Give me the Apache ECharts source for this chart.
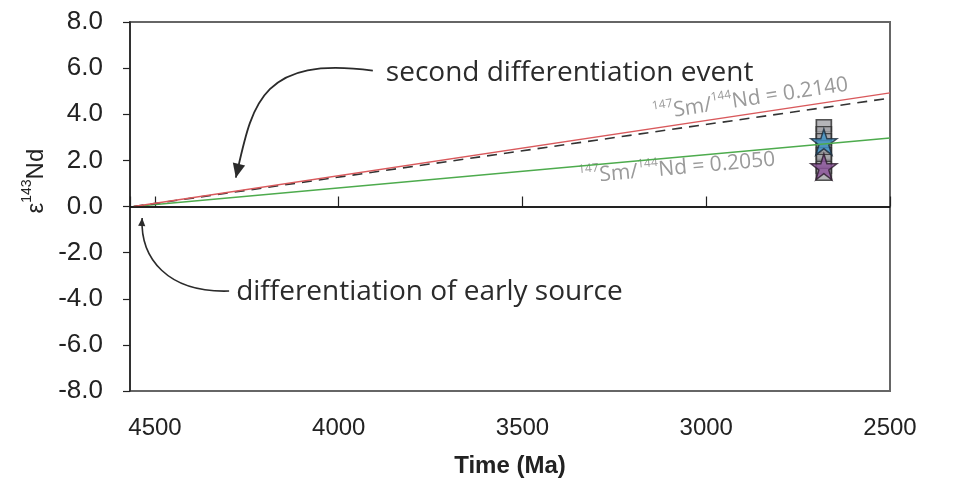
<!DOCTYPE html>
<html>
<head>
<meta charset="utf-8">
<style>
  html, body { margin: 0; padding: 0; background: #fff; }
  #chart { width: 953px; height: 494px; }
</style>
<script src="https://cdn.jsdelivr.net/npm/echarts@6/dist/echarts.min.js"></script>
</head>
<body>
<div id="chart"></div>
<script>
// Nd isotope evolution lines (time in Ma, epsilon Nd)
const lineTimes = [4558, 2500];
const epsRedSolid = [0, 4.93];
const epsBlackDashed = [0, 4.70];
const epsGreen = [0, 2.97];

// ~2.68 Ga samples
const sampleAges = [2680, 2680, 2680, 2680, 2680, 2680, 2680, 2680];
const sampleEps = [3.5, 3.2, 2.9, 2.6, 2.3, 2.0, 1.7, 1.4];
const blueStar = [2680, 2.8];
const purpleStar = [2680, 1.72];

const xTicks = [2500, 3000, 3500, 4000, 4500];
const yTicks = [-8, -6, -4, -2, 0, 2, 4, 6, 8];

const STAR = 'path://M50,0 L61.8,35.4 L100,35.4 L69.1,57.3 L80.9,92.7 L50,70.8 L19.1,92.7 L30.9,57.3 L0,35.4 L38.2,35.4 Z';

const toPairs = (xs, ys) => xs.map((x, i) => [x, ys[i]]);

const chart = echarts.init(document.getElementById('chart'), null, { renderer: 'canvas' });

const option = {
  animation: false,
  backgroundColor: '#ffffff',
  grid: { left: 130, right: 63, top: 22, bottom: 103, show: true, borderColor: '#666', borderWidth: 2 },
  xAxis: {
    type: 'value',
    min: 2500,
    max: 4568,
    interval: 500,
    inverse: true,
    name: 'Time (Ma)',
    nameLocation: 'middle',
    nameGap: 63,
    nameTextStyle: { fontFamily: 'Liberation Sans', fontSize: 24, fontWeight: 'bold', color: '#222' },
    axisLine: { lineStyle: { color: '#222', width: 1.5 } },
    axisTick: { inside: true, length: 10, lineStyle: { color: '#222', width: 1.2 } },
    splitLine: { show: false },
    axisLabel: {
      margin: 25,
      fontFamily: 'Liberation Sans', fontSize: 24, color: '#222',
      formatter: v => (xTicks.indexOf(v) >= 0 ? String(v) : '')
    }
  },
  yAxis: {
    type: 'value',
    min: -8,
    max: 8,
    interval: 2,
    axisLine: { lineStyle: { color: '#222', width: 1.5 } },
    axisTick: { inside: false, length: 7, lineStyle: { color: '#222', width: 1.2 } },
    splitLine: { show: false },
    axisLabel: {
      margin: 27,
      fontFamily: 'Liberation Sans', fontSize: 26, color: '#222',
      formatter: v => (yTicks.indexOf(v) >= 0 ? v.toFixed(1) : '')
    }
  },
  series: [
    {
      name: 'zero',
      type: 'line',
      data: [],
      markLine: {
        silent: true,
        symbol: ['none', 'none'],
        label: { show: false },
        lineStyle: { color: '#111', width: 1.5, type: 'solid' },
        data: [{ yAxis: 0 }]
      }
    },
    {
      name: '147Sm/144Nd = 0.2050',
      type: 'line',
      data: toPairs(lineTimes, epsGreen),
      symbol: 'none',
      lineStyle: { color: '#4dab4d', width: 1.4 }
    },
    {
      name: 'dashed',
      type: 'line',
      data: toPairs(lineTimes, epsBlackDashed),
      symbol: 'none',
      lineStyle: { color: '#333', width: 1.6, type: [10, 7] }
    },
    {
      name: '147Sm/144Nd = 0.2140',
      type: 'line',
      data: toPairs(lineTimes, epsRedSolid),
      symbol: 'none',
      lineStyle: { color: '#d9595c', width: 1.3 }
    },
    {
      name: 'samples',
      type: 'scatter',
      data: toPairs(sampleAges, sampleEps),
      symbol: 'rect',
      symbolSize: [15, 12],
      itemStyle: { color: '#a3a3a8', borderColor: '#2a2a2a', borderWidth: 1.5 }
    },
    {
      name: 'purple',
      type: 'scatter',
      data: [purpleStar],
      symbol: STAR,
      symbolSize: 26,
      itemStyle: { color: '#8e559e', borderColor: '#2a1a2a', borderWidth: 1.5 }
    },
    {
      name: 'blue',
      type: 'scatter',
      data: [blueStar],
      symbol: STAR,
      symbolSize: 26,
      itemStyle: { color: '#3d94c9', borderColor: '#1a2a3a', borderWidth: 1.5 }
    }
  ]
};

chart.setOption(option);

// Annotations placed relative to data coordinates
const px = (t, e) => chart.convertToPixel({ gridIndex: 0 }, [t, e]);

function arrowHead(tip, from, size) {
  const dx = tip[0] - from[0], dy = tip[1] - from[1];
  const len = Math.hypot(dx, dy);
  const ux = dx / len, uy = dy / len;
  const bx = tip[0] - ux * size, by = tip[1] - uy * size;
  const w = size * 0.45;
  return [[tip[0], tip[1]], [bx - uy * w, by + ux * w], [bx + uy * w, by - ux * w]];
}

const a1Tip = px(4280, 1.25);
const a1Start = [a1Tip[0] + 137, a1Tip[1] - 107];
const a1c1 = [a1Tip[0] + 22, a1Tip[1] - 123];
const a1c2 = [a1Tip[0] + 16, a1Tip[1] - 70];

const a2Tip = px(4535, -0.5);
const a2Start = [a2Tip[0] + 87, a2Tip[1] + 73];
const a2c1 = [a2Tip[0] + 25, a2Tip[1] + 75];
const a2c2 = [a2Tip[0] - 2, a2Tip[1] + 40];

const redA = px(lineTimes[0], epsRedSolid[0]);
const redB = px(lineTimes[1], epsRedSolid[1]);
const grnA = px(lineTimes[0], epsGreen[0]);
const grnB = px(lineTimes[1], epsGreen[1]);
const redAngle = Math.atan2(redA[1] - redB[1], redB[0] - redA[0]);
const grnAngle = Math.atan2(grnA[1] - grnB[1], grnB[0] - grnA[0]);

const lab1 = px(2880, 4.72);
const lab2 = px(3080, 1.72);
const yName = [34, px(0, 1.1)[1]];

const ratioRich = {
  sup: { fontFamily: 'Open Sans', fontSize: 12, fill: '#9a9a9a', verticalAlign: 'top', lineHeight: 24 },
  m: { fontFamily: 'Open Sans', fontSize: 21, fill: '#9a9a9a', verticalAlign: 'bottom', lineHeight: 24 }
};

chart.setOption({
  graphic: [
    {
      type: 'text',
      x: a1Start[0] + 13, y: a1Start[1] + 2,
      style: { text: 'second differentiation event', font: '28px "Open Sans"', fill: '#2b2b2b', verticalAlign: 'middle', align: 'left' }
    },
    {
      type: 'bezierCurve',
      shape: { x1: a1Start[0], y1: a1Start[1], cpx1: a1c1[0], cpy1: a1c1[1], cpx2: a1c2[0], cpy2: a1c2[1], x2: a1Tip[0], y2: a1Tip[1] },
      style: { stroke: '#2b2b2b', lineWidth: 1.8, fill: null }
    },
    {
      type: 'polygon',
      shape: { points: arrowHead(a1Tip, a1c2, 14) },
      style: { fill: '#2b2b2b' }
    },
    {
      type: 'text',
      x: a2Start[0] + 7, y: a2Start[1] + 1,
      style: { text: 'differentiation of early source', font: '28px "Open Sans"', fill: '#2b2b2b', verticalAlign: 'middle', align: 'left' }
    },
    {
      type: 'bezierCurve',
      shape: { x1: a2Start[0], y1: a2Start[1], cpx1: a2c1[0], cpy1: a2c1[1], cpx2: a2c2[0], cpy2: a2c2[1], x2: a2Tip[0], y2: a2Tip[1] },
      style: { stroke: '#2b2b2b', lineWidth: 1.6, fill: null }
    },
    {
      type: 'polygon',
      shape: { points: arrowHead(a2Tip, a2c2, 8) },
      style: { fill: '#2b2b2b' }
    },
    {
      type: 'text',
      x: lab1[0], y: lab1[1], rotation: redAngle,
      style: { text: '{sup|147}{m|Sm/}{sup|144}{m|Nd = 0.2140}', rich: ratioRich, align: 'center', verticalAlign: 'middle' }
    },
    {
      type: 'text',
      x: lab2[0], y: lab2[1], rotation: grnAngle,
      style: { text: '{sup|147}{m|Sm/}{sup|144}{m|Nd = 0.2050}', rich: ratioRich, align: 'center', verticalAlign: 'middle' }
    },
    {
      type: 'text',
      x: yName[0], y: yName[1], rotation: Math.PI / 2,
      style: {
        text: '{m|ε}{sup|143}{m|Nd}',
        rich: {
          m: { fontFamily: 'Liberation Sans', fontSize: 24, fill: '#222', verticalAlign: 'bottom', lineHeight: 28 },
          sup: { fontFamily: 'Liberation Sans', fontSize: 14, fill: '#222', verticalAlign: 'top', lineHeight: 28 }
        },
        align: 'center', verticalAlign: 'middle'
      }
    }
  ]
});
</script>
</body>
</html>
